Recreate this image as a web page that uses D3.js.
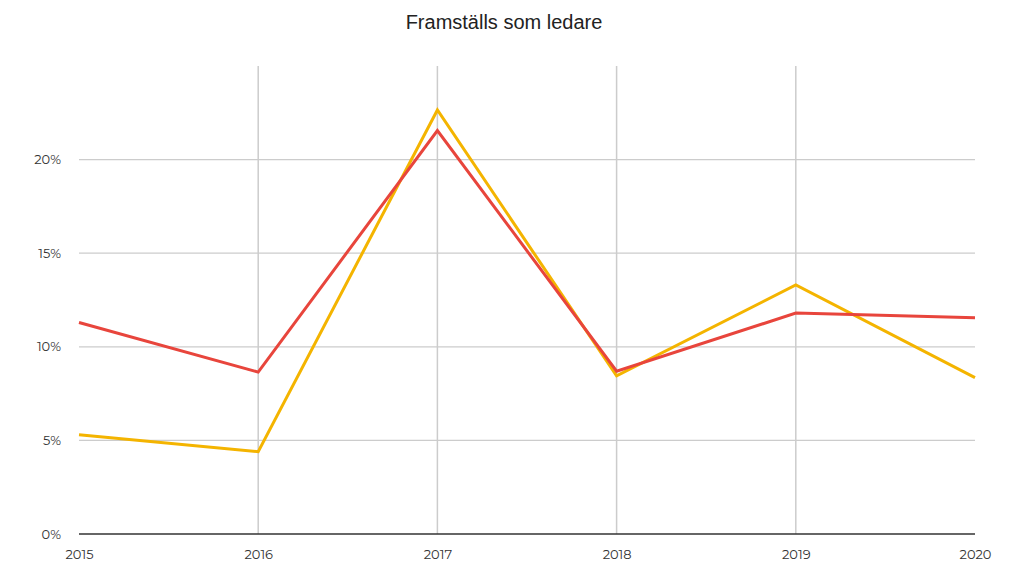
<!DOCTYPE html>
<html>
<head>
<meta charset="utf-8">
<script src="https://cdn.jsdelivr.net/npm/d3@7"></script>
<style>
    body { margin: 0; background: #fff; }
    svg text { font-family: "Montserrat", "Lato", sans-serif; }
</style>
</head>
<body>
<script>
// Chart data
var years = [2015, 2016, 2017, 2018, 2019, 2020];
var redSeries = [11.3, 8.65, 21.55, 8.7, 11.8, 11.55];
var yellowSeries = [5.3, 4.4, 22.65, 8.45, 13.3, 8.35];
var yTicks = [0, 5, 10, 15, 20];

// Size and margins
var width = 1010,
    height = 569;
var margin = {left: 79, right: 35, top: 66, bottom: 35};

var svg = d3.select("body")
    .append("svg")
    .attr("width", width)
    .attr("height", height);

var x = d3.scaleLinear()
    .domain([2015, 2020])
    .range([margin.left, width - margin.right]);

var y = d3.scaleLinear()
    .domain([0, 25])
    .range([height - margin.bottom, margin.top]);

// Title
svg.append("text")
    .attr("x", 504)
    .attr("y", 29)
    .attr("text-anchor", "middle")
    .style("font-family", "'Liberation Sans', Arial, sans-serif")
    .style("font-size", "20px")
    .style("fill", "#222")
    .text("Framställs som ledare");

// Horizontal grid
svg.append("g")
    .selectAll("line")
    .data(yTicks.filter(function(d) { return d > 0; }))
    .enter().append("line")
    .attr("x1", x(2015))
    .attr("x2", x(2020))
    .attr("y1", function(d) { return y(d); })
    .attr("y2", function(d) { return y(d); })
    .style("stroke", "#cccccc")
    .style("stroke-width", 1.3);

// Vertical grid (inner years only)
svg.append("g")
    .selectAll("line")
    .data(years.slice(1, -1))
    .enter().append("line")
    .attr("x1", function(d) { return x(d); })
    .attr("x2", function(d) { return x(d); })
    .attr("y1", y(25))
    .attr("y2", y(0))
    .style("stroke", "#cccccc")
    .style("stroke-width", 1.5);

// Baseline
svg.append("line")
    .attr("x1", x(2015))
    .attr("x2", x(2020))
    .attr("y1", y(0))
    .attr("y2", y(0))
    .style("stroke", "#333")
    .style("stroke-width", 1.3);

// Y axis labels
var yAxis = d3.axisLeft(y)
    .tickValues(yTicks)
    .tickSize(0)
    .tickPadding(18)
    .tickFormat(function(d) { return d + "%"; });

svg.append("g")
    .attr("transform", "translate(" + margin.left + ",0)")
    .call(yAxis)
    .call(function(g) { g.select(".domain").remove(); })
    .selectAll("text")
    .style("font-size", "13px")
    .style("fill", "#333");

// X axis labels
var xAxis = d3.axisBottom(x)
    .tickValues(years)
    .tickSize(0)
    .tickPadding(16)
    .tickFormat(d3.format("d"));

svg.append("g")
    .attr("transform", "translate(0," + y(0) + ")")
    .call(xAxis)
    .call(function(g) { g.select(".domain").remove(); })
    .selectAll("text")
    .style("font-size", "13px")
    .style("fill", "#333");

// Lines
var line = d3.line()
    .x(function(d, i) { return x(years[i]); })
    .y(function(d) { return y(d); });

svg.append("path")
    .datum(yellowSeries)
    .attr("d", line)
    .style("fill", "none")
    .style("stroke", "#f4b400")
    .style("stroke-width", 3);

svg.append("path")
    .datum(redSeries)
    .attr("d", line)
    .style("fill", "none")
    .style("stroke", "#e8453c")
    .style("stroke-width", 3);
</script>
</body>
</html>
